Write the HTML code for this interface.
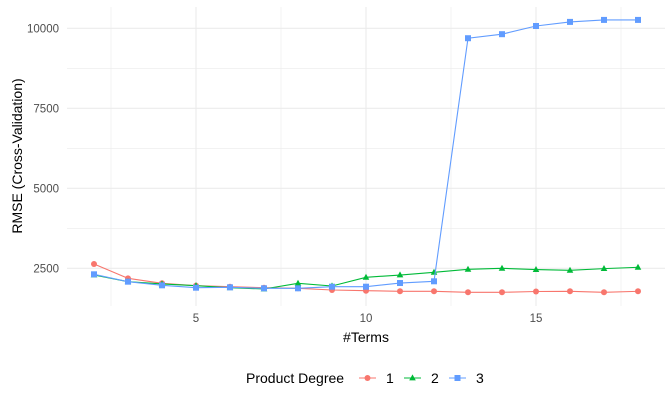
<!DOCTYPE html>
<html><head><meta charset="utf-8"><style>
body{margin:0;background:#fff;font-family:"Liberation Sans",sans-serif}
svg text{font-family:"Liberation Sans",sans-serif}
</style></head><body>
<svg id="chart" width="672" height="403" xmlns="http://www.w3.org/2000/svg">
<g id="grid"></g>
<g id="series"></g>
<g id="axes"></g>
<text x="366" y="342" font-size="14" text-anchor="middle" fill="#000">#Terms</text>
<text transform="translate(22,156) rotate(-90)" font-size="14" text-anchor="middle" fill="#000">RMSE (Cross-Validation)</text>
<g id="legend"></g>
</svg>
<script>
const terms=[2,3,4,5,6,7,8,9,10,11,12,13,14,15,16,17,18];
const deg1=[2634,2187,2031,1957,1925,1894,1875,1822,1800,1781,1781,1750,1750,1775,1781,1750,1781];
const deg2=[2290,2082,2010,1957,1894,1853,2031,1947,2219,2290,2375,2469,2500,2460,2437,2490,2531];
const deg3=[2312,2082,1968,1894,1905,1875,1875,1925,1925,2040,2094,9690,9816,10072,10200,10262,10262];
const xTicks=[5,10,15];
const yTicks=[2500,5000,7500,10000];
const legendLabels=["1","2","3"];
const colors=["#F8766D","#00BA38","#619CFF"];
const NS="http://www.w3.org/2000/svg";
const X=v=>196+(v-5)*34;
const Y=v=>268.3-(v-2500)*0.032;
const pL=67,pR=665,pT=7,pB=306;
function mk(tag,attrs,parent){const e=document.createElementNS(NS,tag);for(const k in attrs)e.setAttribute(k,attrs[k]);parent.appendChild(e);return e;}
const grid=document.getElementById('grid'),axes=document.getElementById('axes'),ser=document.getElementById('series'),leg=document.getElementById('legend');
// minor grid
for(let v=2.5;v<=18.8;v+=5){const l=mk('line',{x1:X(v),x2:X(v),y1:pT,y2:pB,stroke:'#ebebeb','stroke-width':0.6},grid);

}
for(let v=3750;v<=10000;v+=2500){const l=mk('line',{x1:pL,x2:pR,y1:Y(v),y2:Y(v),stroke:'#ebebeb','stroke-width':0.6},grid);

}
xTicks.forEach(t=>{const l=mk('line',{x1:X(t),x2:X(t),y1:pT,y2:pB,stroke:'#ebebeb','stroke-width':1.1},grid);


const tx=mk('text',{x:X(t),y:322,'font-size':11.5,'text-anchor':'middle',fill:'#4d4d4d'},axes);tx.textContent=t;

});
yTicks.forEach(t=>{const l=mk('line',{x1:pL,x2:pR,y1:Y(t),y2:Y(t),stroke:'#ebebeb','stroke-width':1.1},grid);


const tx=mk('text',{x:59,y:Y(t)+4,'font-size':11.5,'text-anchor':'end',fill:'#4d4d4d'},axes);tx.textContent=t;

});
function marker(shape,x,y,c,p){
 if(shape===0)return mk('circle',{cx:x,cy:y,r:3,fill:c},p);
 if(shape===1)return mk('polygon',{points:`${x},${y-3.6} ${x-3.3},${y+2.4} ${x+3.3},${y+2.4}`,fill:c},p);
 return mk('rect',{x:x-3,y:y-3,width:6,height:6,fill:c},p);
}
[deg1,deg2,deg3].forEach((d,i)=>{
 const g=mk('g',{},ser);
 
 
 const pl=mk('polyline',{points:terms.map((t,j)=>X(t)+','+Y(d[j])).join(' '),fill:'none',stroke:colors[i],'stroke-width':1.1},g);
 
 
 terms.forEach((t,j)=>{const m=marker(i,X(t),Y(d[j]),colors[i],g);
 
 });
});
const lt=mk('text',{x:246,y:383,'font-size':14,fill:'#000'},leg);lt.textContent='Product Degree';


legendLabels.forEach((s,i)=>{
 const x0=359+i*45;
 const g=mk('g',{},leg);
 
 
 mk('line',{x1:x0,x2:x0+17,y1:378,y2:378,stroke:colors[i],'stroke-width':1.1},g);
 marker(i,x0+8.5,378,colors[i],g);
 const t=mk('text',{x:x0+27,y:383,'font-size':14,fill:'#000'},g);t.textContent=s;
});
</script>
</body></html>
